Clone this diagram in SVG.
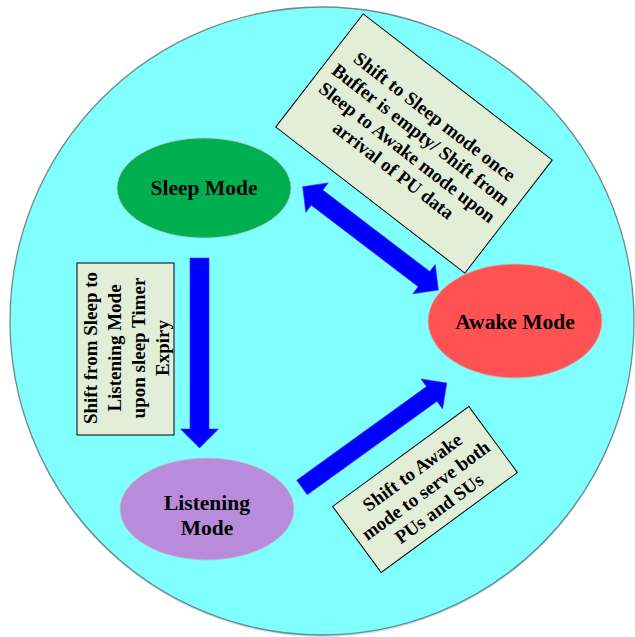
<svg xmlns="http://www.w3.org/2000/svg" width="635" height="637" viewBox="0 0 635 637">
<style>
.bg{fill:#80FFFF;stroke:#6E8A8A;stroke-width:1.3}
.node text,.note text{font-family:"Liberation Serif","Times New Roman",serif;font-weight:bold;fill:#000}
.node text{font-size:21.5px;text-anchor:middle}
.note text{font-size:19px;text-anchor:middle}
.note rect{fill:#E2EED8;stroke:#000;stroke-width:1}
.arrow{fill:#0000FF;stroke:#3030FF;stroke-width:0.6;stroke-linejoin:miter}
.ell{stroke:#B8C8C8;stroke-width:0.8}
</style>
<rect width="635" height="637" fill="#FFFFFF"/>
<ellipse cx="322" cy="323" rx="312" ry="314" fill="#D0E0F4"/>
<ellipse class="bg" cx="322" cy="321" rx="312" ry="314"/>

<g id="connectors">
  <!-- Sleep to Listening (vertical) -->
  <path class="arrow" transform="translate(199.5,258) rotate(90)" d="M0,-9.5 L171,-9.5 L171,-19 L190,0 L171,19 L171,9.5 L0,9.5 Z"/>
  <!-- Listening to Awake -->
  <path class="arrow" transform="translate(302,487.5) rotate(-35.8)" d="M0,-9 L160,-9 L160,-18.5 L178.5,0 L160,18.5 L160,9 L0,9 Z"/>
  <!-- Sleep <-> Awake double arrow -->
  <path class="arrow" transform="translate(302.7,186.7) rotate(37.3)" d="M0,0 L18,-18.5 L18,-9.5 L152.5,-9.5 L152.5,-18.5 L170.5,0 L152.5,18.5 L152.5,9.5 L18,9.5 L18,18.5 Z"/>
</g>

<g id="sleep" class="node">
  <ellipse class="ell" cx="204" cy="188" rx="87" ry="50" fill="#00B050"/>
  <text x="204" y="194.5">Sleep Mode</text>
</g>

<g id="awake" class="node">
  <ellipse class="ell" cx="515" cy="321" rx="87" ry="57" fill="#FF5252"/>
  <text x="515" y="328.5">Awake Mode</text>
</g>

<g id="listening" class="node">
  <ellipse class="ell" cx="207" cy="509" rx="87" ry="51" fill="#B88BDB"/>
  <text x="207" y="510">Listening</text>
  <text x="207" y="535">Mode</text>
</g>

<g id="note-sleep-awake" class="note">
  <g transform="translate(414,143.5) rotate(37.7)">
    <rect x="-119.5" y="-71.5" width="239" height="143"/>
    <text x="0" y="-27.5">Shift to Sleep mode once</text>
    <text x="0" y="-5">Buffer is empty/ Shift from</text>
    <text x="0" y="17.5">Sleep to Awake mode upon</text>
    <text x="0" y="40">arrival of PU data</text>
  </g>
</g>

<g id="note-sleep-listening" class="note">
  <rect x="77" y="263" width="97" height="172"/>
  <g transform="translate(0,348) rotate(-90)">
    <text x="0" y="97">Shift from Sleep to</text>
    <text x="0" y="121">Listening Mode</text>
    <text x="0" y="145">upon sleep Timer</text>
    <text x="0" y="168.5">Expiry</text>
  </g>
</g>

<g id="note-listening-awake" class="note">
  <g transform="translate(425,489.5) rotate(-36.3)">
    <rect x="-84.5" y="-41" width="169" height="82"/>
    <text x="0" y="-15">Shift to Awake</text>
    <text x="0" y="7.5">mode to serve both</text>
    <text x="0" y="30">PUs and SUs</text>
  </g>
</g>
</svg>
